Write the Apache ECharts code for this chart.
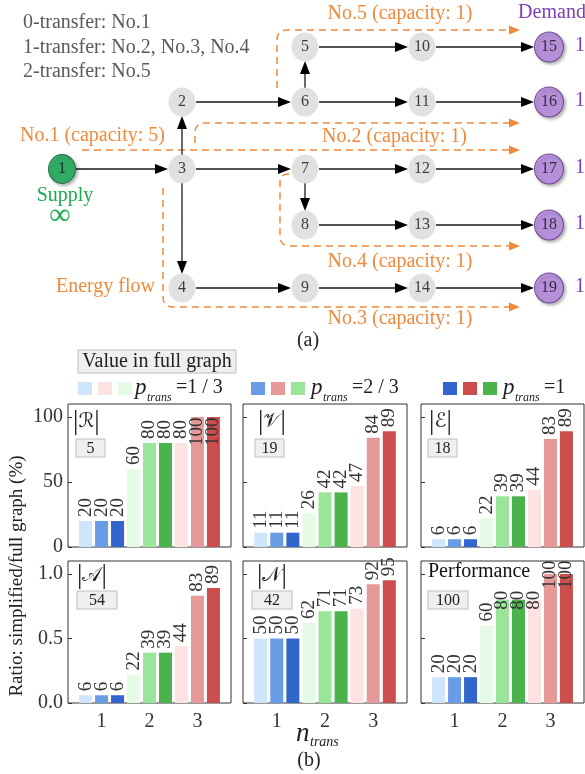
<!DOCTYPE html>
<html>
<head>
<meta charset="utf-8">
<script src="https://cdn.jsdelivr.net/npm/echarts@6/dist/echarts.min.js"></script>
<style>
  html, body { margin: 0; padding: 0; background: #ffffff; }
  #chart { width: 585px; height: 774px; }
</style>
</head>
<body>
<div id="chart"></div>
<script>
// ---------------- (b) bar panels: simplified / full graph, in percent ----------------
const nTrans = [1, 2, 3];
const pTransLabels = ['1 / 3', '2 / 3', '1'];
const metricTitles = ['ℛ', '𝒱', 'ℰ', '𝒜', '𝒩', 'Performance'];
const fullGraphValues = ['5', '19', '18', '54', '42', '100'];
// order inside each list: n=1 (p=1/3, 2/3, 1), n=2 (...), n=3 (...)
const ratioR    = [20, 20, 20, 60, 80, 80, 80, 100, 100];
const ratioV    = [11, 11, 11, 26, 42, 42, 47, 84, 89];
const ratioE    = [6, 6, 6, 22, 39, 39, 44, 83, 89];
const ratioA    = [6, 6, 6, 22, 39, 39, 44, 83, 89];
const ratioN    = [50, 50, 50, 62, 71, 71, 73, 92, 95];
const ratioPerf = [20, 20, 20, 60, 80, 80, 80, 100, 100];
const yTicksTop = [0, 50, 100];
const yTicksBottom = [0, 0.5, 1.0];

// ---------------- (a) energy network ----------------
const nodeIds = [1, 2, 3, 4, 5, 6, 7, 8, 9, 10, 11, 12, 13, 14, 15, 16, 17, 18, 19];
const nodeCol = [0, 1, 1, 1, 2, 2, 2, 2, 2, 3, 3, 3, 3, 3, 4, 4, 4, 4, 4];
const nodeRow = [2, 1, 2, 4, 0, 1, 2, 3, 4, 0, 1, 2, 3, 4, 0, 1, 2, 3, 4];
const edgeList = [[1, 3], [3, 2], [3, 4], [3, 7], [2, 6], [6, 5], [6, 11], [5, 10], [10, 15],
                  [11, 16], [7, 12], [7, 8], [12, 17], [8, 13], [13, 18], [4, 9], [9, 14], [14, 19]];
const supplyNodes = [1];
const demandNodes = [15, 16, 17, 18, 19];
const demandValues = ['1', '1', '1', '1', '1'];
const routeNames = ['No.1 (capacity: 5)', 'No.2 (capacity: 1)', 'No.3 (capacity: 1)',
                    'No.4 (capacity: 1)', 'No.5 (capacity: 1)'];
const transferText = ['0-transfer: No.1', '1-transfer: No.2, No.3, No.4', '2-transfer: No.5'];

// layout of the network drawing (diagram units = page pixels)
const colX = [62, 182, 305, 422, 549];
const rowY = [47, 102, 169, 225, 288];
const routePaths = [
  [[82, 150], [520, 150]],                            // No.1
  [[195, 143], [195, 123], [520, 123]],               // No.2
  [[163, 188], [163, 307], [520, 307]],               // No.3
  [[289, 174], [280, 174], [280, 246], [520, 246]],   // No.4
  [[277, 88], [277, 30], [520, 30]]                   // No.5
];

// ---------------- styles ----------------
const SERIF = "'Liberation Serif', 'Times New Roman', serif";
const ORANGE = '#ef8a3c';
const PURPLE = '#7b3fb5';
const GREEN_TXT = '#1bab52';
const barColors = [
  ['#cfe5fb', '#6a9be6', '#3366cc'],   // n = 1 : blues
  ['#e5fbe5', '#9ae59a', '#4cb34c'],   // n = 2 : greens
  ['#fde2e2', '#e59999', '#cc4d4d']    // n = 3 : reds
];
const legendColors = [
  ['#cfe5fb', '#fde2e2', '#e5fbe5'],
  ['#6a9be6', '#e59999', '#9ae59a'],
  ['#3366cc', '#cc4d4d', '#4cb34c']
];

const chart = echarts.init(document.getElementById('chart'), null, { renderer: 'canvas' });

const grids = [], xAxes = [], yAxes = [], series = [], graphics = [];

// grid 0 carries the network drawing
grids.push({ left: 0, top: 0, width: 585, height: 774, show: false });
xAxes.push({ gridIndex: 0, type: 'value', min: 0, max: 585, show: false });
yAxes.push({ gridIndex: 0, type: 'value', min: 0, max: 774, inverse: true, show: false });

// ---- orange routes (dashed, rounded corners, arrow at the end) ----
series.push({
  type: 'custom', xAxisIndex: 0, yAxisIndex: 0, silent: true, z: 1,
  data: routePaths.map((r, i) => [i]),
  renderItem(params, api) {
    const pts = routePaths[params.dataIndex].map(p => api.coord(p));
    const head = 11, hw = 4.5;
    let d = 'M' + pts[0][0] + ',' + pts[0][1];
    for (let i = 1; i < pts.length - 1; i++) {
      const p = pts[i], a = pts[i - 1], b = pts[i + 1];
      const la = Math.hypot(a[0] - p[0], a[1] - p[1]);
      const lb = Math.hypot(b[0] - p[0], b[1] - p[1]);
      const rad = Math.min(10, la * 0.9, lb * 0.9);
      const p1 = [p[0] + (a[0] - p[0]) / la * rad, p[1] + (a[1] - p[1]) / la * rad];
      const p2 = [p[0] + (b[0] - p[0]) / lb * rad, p[1] + (b[1] - p[1]) / lb * rad];
      d += ' L' + p1[0] + ',' + p1[1] + ' Q' + p[0] + ',' + p[1] + ' ' + p2[0] + ',' + p2[1];
    }
    const end = pts[pts.length - 1], prev = pts[pts.length - 2];
    const L = Math.hypot(end[0] - prev[0], end[1] - prev[1]);
    const ux = (end[0] - prev[0]) / L, uy = (end[1] - prev[1]) / L;
    const base = [end[0] - ux * head, end[1] - uy * head];
    d += ' L' + base[0] + ',' + base[1];
    return {
      type: 'group',
      children: [
        { type: 'path', shape: { pathData: d },
          style: { fill: 'none', stroke: ORANGE, lineWidth: 1.5, lineDash: [7, 5] } },
        { type: 'polygon',
          shape: { points: [end, [base[0] - uy * hw, base[1] + ux * hw], [base[0] + uy * hw, base[1] - ux * hw]] },
          style: { fill: ORANGE } }
      ]
    };
  }
});

// ---- black edges with arrow heads ----
function nodePos(id) {
  const i = nodeIds.indexOf(id);
  return [colX[nodeCol[i]], rowY[nodeRow[i]]];
}
series.push({
  type: 'custom', xAxisIndex: 0, yAxisIndex: 0, silent: true, z: 2,
  data: edgeList.map(e => nodePos(e[0]).concat(nodePos(e[1])).concat([e[1]])),
  renderItem(params, api) {
    const s = api.coord([api.value(0), api.value(1)]);
    const t = api.coord([api.value(2), api.value(3)]);
    const target = api.value(4);
    const dx = t[0] - s[0], dy = t[1] - s[1], len = Math.hypot(dx, dy);
    const ux = dx / len, uy = dy / len;
    const r0 = 14, r1 = demandNodes.indexOf(target) >= 0 ? 15 : 14;
    const head = 13, hw = 5;
    const a = [s[0] + ux * r0, s[1] + uy * r0];
    const tip = [t[0] - ux * r1, t[1] - uy * r1];
    const base = [tip[0] - ux * head, tip[1] - uy * head];
    return {
      type: 'group',
      children: [
        { type: 'line', shape: { x1: a[0], y1: a[1], x2: base[0] + ux * 2, y2: base[1] + uy * 2 },
          style: { stroke: '#1a1a1a', lineWidth: 1.3 } },
        { type: 'polygon',
          shape: { points: [tip, [base[0] - uy * hw, base[1] + ux * hw], [base[0] + uy * hw, base[1] - ux * hw]] },
          style: { fill: '#000' } }
      ]
    };
  }
});

// ---- nodes ----
series.push({
  type: 'scatter', xAxisIndex: 0, yAxisIndex: 0, silent: true, z: 3,
  data: nodeIds.map(id => {
    const isSupply = supplyNodes.indexOf(id) >= 0;
    const isDemand = demandNodes.indexOf(id) >= 0;
    const style = isSupply
      ? { color: '#0fa74f', borderColor: '#0b5a2c', borderWidth: 1, shadowBlur: 3, shadowOffsetX: 2, shadowOffsetY: 2, shadowColor: 'rgba(0,0,0,0.35)' }
      : isDemand
        ? { color: '#b484e0', borderColor: '#5c2d86', borderWidth: 1, shadowBlur: 3, shadowOffsetX: 2, shadowOffsetY: 2, shadowColor: 'rgba(0,0,0,0.35)' }
        : { color: '#d9d9d9' };
    return {
      name: String(id),
      value: nodePos(id),
      symbolSize: isDemand ? [29, 30] : [27, 29],
      itemStyle: style
    };
  }),
  symbol: 'circle',
  label: { show: true, position: 'inside', formatter: '{b}', color: '#111', fontFamily: SERIF, fontSize: 16 }
});

// ---- texts of the network drawing ----
function txt(x, y, text, opt) {
  graphics.push(Object.assign({
    type: 'text', x: x, y: y, silent: true,
    style: Object.assign({ text: text, font: '20px ' + SERIF, fill: '#222', align: 'left', verticalAlign: 'middle' }, opt || {})
  }));
}
transferText.forEach((t, i) => txt(23, 23 + i * 24.5, t, { fill: '#5a5a5a' }));
txt(400, 14, routeNames[4], { fill: ORANGE, align: 'center' });
txt(20, 136, routeNames[0], { fill: ORANGE });
txt(467, 137, routeNames[1], { fill: ORANGE, align: 'right' });
txt(400, 262, routeNames[3], { fill: ORANGE, align: 'center' });
txt(400, 319, routeNames[2], { fill: ORANGE, align: 'center' });
txt(155, 287, 'Energy flow', { fill: ORANGE, align: 'right' });
txt(552, 13, 'Demand', { fill: PURPLE, align: 'center' });
demandNodes.forEach((id, i) => txt(575, nodePos(id)[1] - 1, demandValues[i], { fill: PURPLE }));
txt(65, 196, 'Supply', { fill: GREEN_TXT, align: 'center' });
txt(60, 216, '∞', { fill: GREEN_TXT, align: 'center', font: '30px ' + SERIF });
txt(308, 341, '(a)', { align: 'center' });

// ---------------- (b) bar panels ----------------
const panelData = [ratioR, ratioV, ratioE, ratioA, ratioN, ratioPerf];
const panelLeft = [68, 243, 421];
const panelWidth = [163, 164, 163];
const panelTop = [404, 561];
const panelHeight = [143, 142];
const titleDx = [5, 15, 8, 9, 14, 7];
const boxDx = [8, 12, 7, 9, 9, 7];
// labels pulled down into the bar tops where they would leave the frame
const labelDistance = { 0: { 100: -29 }, 5: { 80: -10, 100: -15 } };

panelData.forEach((vals, k) => {
  const row = Math.floor(k / 3), col = k % 3;
  const gi = k + 1;
  const scale = row === 0 ? 1 : 0.01;
  const ticks = row === 0 ? yTicksTop : yTicksBottom;
  grids.push({
    left: panelLeft[col], top: panelTop[row], width: panelWidth[col], height: panelHeight[row],
    show: true, borderColor: '#333', borderWidth: 1, backgroundColor: 'transparent'
  });
  xAxes.push({
    gridIndex: gi, type: 'value', min: 0.3, max: 3.7,
    axisLine: { show: false }, axisTick: { show: false }, splitLine: { show: false },
    axisLabel: {
      show: row === 1, customValues: nTrans, margin: 9,
      fontFamily: SERIF, fontSize: 20, color: '#333'
    }
  });
  yAxes.push({
    gridIndex: gi, type: 'value', min: 0, max: row === 0 ? 110 : 1.1, interval: row === 0 ? 50 : 0.5,
    axisLine: { show: false }, splitLine: { show: false },
    axisTick: { show: true, inside: true, length: 4, customValues: ticks, lineStyle: { color: '#333' } },
    axisLabel: {
      show: col === 0, customValues: ticks, margin: 5,
      fontFamily: SERIF, fontSize: 20, color: '#333',
      formatter: v => row === 0 ? String(v) : v.toFixed(1)
    }
  });
  const items = [];
  vals.forEach((v, j) => {
    const n = Math.floor(j / 3), p = j % 3;
    const dist = (labelDistance[k] && labelDistance[k][v] != null) ? labelDistance[k][v] : 4;
    items.push({
      value: [nTrans[n] + (p - 1) / 3, v * scale, v],
      itemStyle: { color: barColors[n][p] },
      label: { distance: dist }
    });
  });
  series.push({
    type: 'bar', xAxisIndex: gi, yAxisIndex: gi, barWidth: 13, silent: true,
    encode: { x: 0, y: 1 },
    data: items,
    label: {
      show: true, position: 'top', rotate: 90, align: 'left', verticalAlign: 'middle',
      fontFamily: SERIF, fontSize: 19, color: '#333',
      formatter: p => String(p.value[2])
    }
  });

  // panel title and full-graph value box
  const left = panelLeft[col], top = panelTop[row];
  const isMath = k < 5;
  if (isMath) {
    graphics.push({
      type: 'text', x: left + titleDx[k], y: top + (row === 0 ? 18 : 15), silent: true,
      style: {
        text: '{b||}{m|' + metricTitles[k] + '}{b||}',
        verticalAlign: 'middle',
        rich: {
          b: { fontFamily: SERIF, fontSize: 27, fill: '#222' },
          m: { fontFamily: "'DejaVu Serif', 'DejaVu Sans', serif", fontSize: 20, fill: '#222' }
        }
      }
    });
  } else {
    txt(left + titleDx[k], top + 11, metricTitles[k], { fill: '#111', font: '20px ' + SERIF });
  }
  const bw = row === 0 ? 29 : 40, bh = 18;
  const by = top + (row === 0 ? 35 : 30);
  graphics.push({
    type: 'rect', silent: true,
    shape: { x: left + boxDx[k], y: by, width: bw, height: bh },
    style: { fill: '#efefef', stroke: '#bdbdbd', lineWidth: 1 }
  });
  txt(left + boxDx[k] + bw / 2, by + bh / 2 + 0.5, fullGraphValues[k], { align: 'center', font: '16px ' + SERIF, fill: '#222' });
});

// ---- "Value in full graph" tag and legend ----
graphics.push({
  type: 'rect', silent: true, shape: { x: 78, y: 350, width: 158, height: 23 },
  style: { fill: '#efefef', stroke: '#bdbdbd', lineWidth: 1 }
});
txt(157, 362, 'Value in full graph', { align: 'center', font: '20px ' + SERIF, fill: '#222' });

const legendX = [78, 251, 443];
const legendTextX = [135, 311, 503];
legendColors.forEach((cols, g) => {
  cols.forEach((c, i) => {
    graphics.push({
      type: 'rect', silent: true,
      shape: { x: legendX[g] + i * 20, y: 382, width: 14, height: 13 },
      style: { fill: c }
    });
  });
  const x0 = legendTextX[g];
  txt(x0, 388, 'p', { font: 'italic 23px ' + SERIF, fill: '#222' });
  txt(x0 + 12, 398, 'trans', { font: 'italic 12px ' + SERIF, fill: '#222' });
  txt(x0 + 41, 388, '=' + pTransLabels[g], { font: '20px ' + SERIF, fill: '#222' });
});

// ---- axis titles and (b) ----
graphics.push({
  type: 'text', x: 17, y: 576, rotation: Math.PI / 2, silent: true,
  style: { text: 'Ratio: simplified/full graph (%)', font: '19px ' + SERIF, fill: '#222', align: 'center', verticalAlign: 'middle' }
});
txt(296, 734, 'n', { font: 'italic 27px ' + SERIF, fill: '#222' });
txt(310, 742, 'trans', { font: 'italic 14px ' + SERIF, fill: '#222' });
txt(309, 761, '(b)', { align: 'center' });

chart.setOption({
  animation: false,
  backgroundColor: '#ffffff',
  grid: grids,
  xAxis: xAxes,
  yAxis: yAxes,
  series: series,
  graphic: { elements: graphics }
});
</script>
</body>
</html>
